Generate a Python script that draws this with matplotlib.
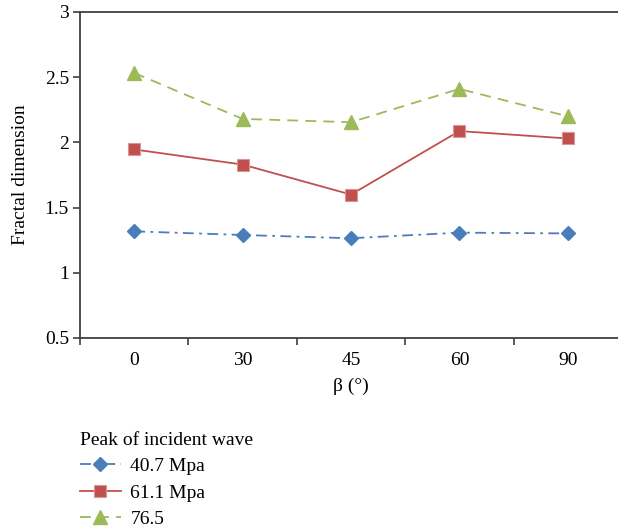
import matplotlib
matplotlib.use("Agg")
import matplotlib.pyplot as plt
from matplotlib.ticker import FixedLocator, NullFormatter, FixedFormatter

# Data
angles = ["0", "30", "45", "60", "90"]
y_ticks = [0.5, 1, 1.5, 2, 2.5, 3]
peak_40_7 = [1.318, 1.29, 1.265, 1.308, 1.302]
peak_61_1 = [1.946, 1.83, 1.60, 2.087, 2.03]
peak_76_5 = [2.533, 2.18, 2.155, 2.41, 2.20]
series_labels = ["40.7 Mpa", "61.1 Mpa", "76.5"]

plt.rcParams["font.family"] = ["Liberation Serif", "DejaVu Serif"]
FS = 14

fig = plt.figure(figsize=(6.18, 5.31), dpi=100)
ax = fig.add_axes([80 / 618, 1 - 338 / 531, (622 - 80) / 618, (338 - 12) / 531])

x = list(range(len(angles)))
blue, red, green = "#4a7ebb", "#c0504d", "#9bbb59"

ax.plot(x, peak_40_7, color=blue, lw=1.3, linestyle=(0, (6, 3, 1.5, 3)),
        marker="D", markersize=7, markeredgecolor=blue, label=series_labels[0])
ax.plot(x, peak_61_1, color=red, lw=1.3, linestyle="-",
        marker="s", markersize=9, markeredgecolor="#d99694", markeredgewidth=0.8,
        label=series_labels[1])
ax.plot(x, peak_76_5, color=green, lw=1.3, linestyle=(0, (6, 4)),
        marker="^", markersize=10, markeredgecolor=green, label=series_labels[2])

ax.set_xlim(-0.5, len(angles) - 0.5)
ax.set_ylim(0.5, 3)

# Category boundaries carry tick marks; labels sit at category centres
ax.xaxis.set_major_locator(FixedLocator([i - 0.5 for i in range(len(angles) + 1)]))
ax.xaxis.set_major_formatter(NullFormatter())
ax.xaxis.set_minor_locator(FixedLocator(x))
ax.xaxis.set_minor_formatter(FixedFormatter(angles))
ax.tick_params(axis="x", which="major", direction="out", length=5, width=1.2, color="#404040")
ax.tick_params(axis="x", which="minor", length=0, pad=10, labelsize=FS)

ax.set_yticks(y_ticks)
ax.set_yticklabels(["0.5", "1", "1.5", "2", "2.5", "3"])
ax.tick_params(axis="y", direction="out", length=5, width=1.2, color="#404040", labelsize=FS, pad=3)

for side in ("left", "bottom", "top"):
    ax.spines[side].set_color("#404040")
    ax.spines[side].set_linewidth(1.3)
ax.spines["right"].set_visible(False)

ax.set_ylabel("Fractal dimension", fontsize=FS, labelpad=11)
ax.set_xlabel("β (°)", fontsize=FS, labelpad=6)

leg = fig.legend(loc="upper left", bbox_to_anchor=(72 / 618, 1 - 424 / 531),
                 frameon=False, title="Peak of incident wave", alignment="left",
                 fontsize=FS, title_fontsize=FS, handlelength=2.1,
                 handletextpad=0.5, labelspacing=0.45, borderaxespad=0)

fig.savefig("out.png", dpi=100)
